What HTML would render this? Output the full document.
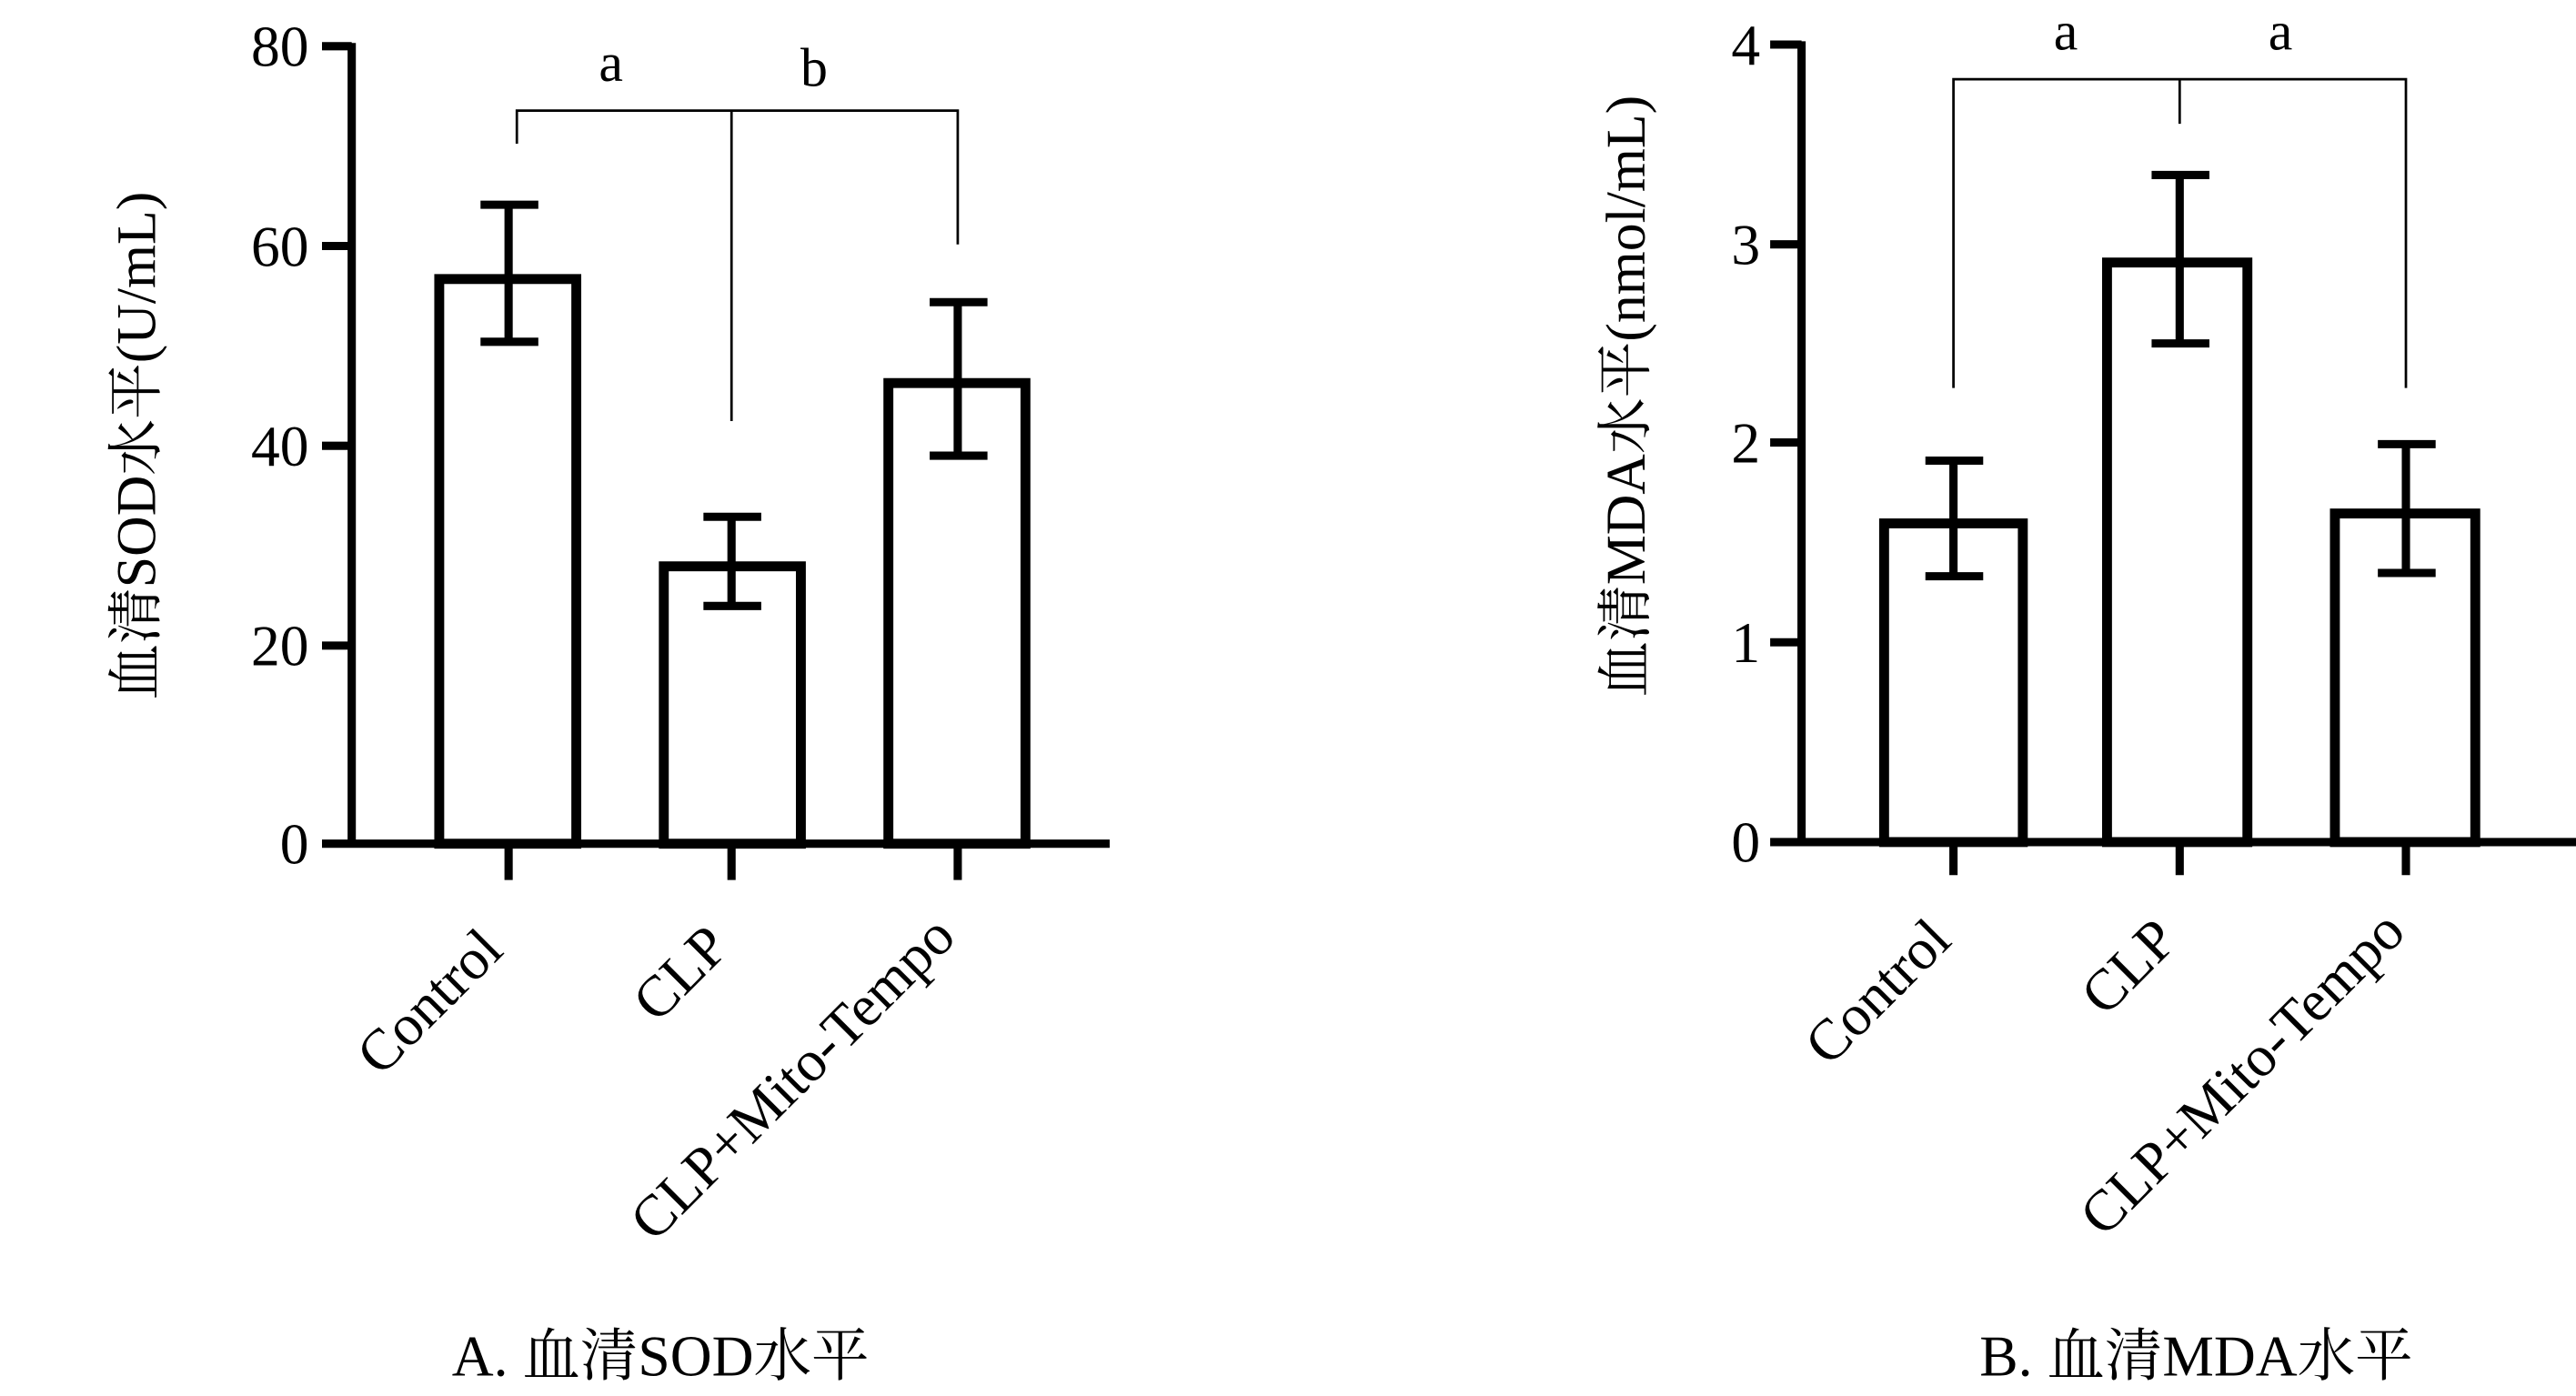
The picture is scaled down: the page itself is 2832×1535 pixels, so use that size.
<!DOCTYPE html>
<html><head><meta charset="utf-8"><style>
html,body{margin:0;padding:0;background:#fff}
svg{display:block}
text{font-family:"Liberation Serif","Noto Serif CJK SC","Noto Sans CJK SC",serif;fill:#000}
</style></head><body>
<svg width="2832" height="1535" viewBox="0 0 1560 845.5" preserveAspectRatio="none" xmlns="http://www.w3.org/2000/svg">
<g stroke="#000" fill="none" stroke-width="5">
<!-- Panel A -->
<line x1="213" y1="26" x2="213" y2="513"/>
<line x1="195" y1="511" x2="672" y2="511"/>
<line x1="195" y1="28" x2="213" y2="28"/>
<line x1="195" y1="149" x2="213" y2="149"/>
<line x1="195" y1="270" x2="213" y2="270"/>
<line x1="195" y1="391" x2="213" y2="391"/>
<line x1="308" y1="511" x2="308" y2="533"/>
<line x1="443" y1="511" x2="443" y2="533"/>
<line x1="580" y1="511" x2="580" y2="533"/>
<rect x="266" y="169" width="83" height="342" stroke-width="6"/>
<rect x="402" y="343" width="83" height="168" stroke-width="6"/>
<rect x="538" y="232" width="83" height="279" stroke-width="6"/>
<path d="M308 124V207M291 124H326M291 207H326"/>
<path d="M443 313V367M426 313H461M426 367H461"/>
<path d="M580 183V276M563 183H598M563 276H598"/>
<!-- Panel B -->
<line x1="1091" y1="25" x2="1091" y2="512"/>
<line x1="1072" y1="510" x2="1560" y2="510"/>
<line x1="1072" y1="27" x2="1091" y2="27"/>
<line x1="1072" y1="148" x2="1091" y2="148"/>
<line x1="1072" y1="268" x2="1091" y2="268"/>
<line x1="1072" y1="389" x2="1091" y2="389"/>
<line x1="1183" y1="510" x2="1183" y2="530"/>
<line x1="1320" y1="510" x2="1320" y2="530"/>
<line x1="1457" y1="510" x2="1457" y2="530"/>
<rect x="1141" y="317" width="84" height="193" stroke-width="6"/>
<rect x="1276" y="159" width="85" height="351" stroke-width="6"/>
<rect x="1414" y="311" width="85" height="199" stroke-width="6"/>
<path d="M1183 279V349M1166 279H1201M1166 349H1201"/>
<path d="M1320 106V208M1303 106H1338M1303 208H1338"/>
<path d="M1457 269V347M1440 269H1475M1440 347H1475"/>
</g>
<g stroke="#000" fill="none" stroke-width="1.5">
<path d="M313 87V67H580V148M443 67V255"/>
<path d="M1183 235V48H1457V235M1320 48V75"/>
</g>
<g font-size="35" text-anchor="end">
<text x="187" y="40">80</text><text x="187" y="161">60</text><text x="187" y="282">40</text><text x="187" y="403">20</text><text x="187" y="523">0</text>
<text x="1066" y="39">4</text><text x="1066" y="160">3</text><text x="1066" y="280">2</text><text x="1066" y="401">1</text><text x="1066" y="522">0</text>
</g>
<g font-size="33" text-anchor="middle">
<text x="370" y="49">a</text><text x="493" y="52">b</text>
<text x="1251" y="30">a</text><text x="1381" y="30">a</text>
</g>
<g font-size="35" text-anchor="end">
<text transform="translate(306,577) rotate(-45)">Control</text>
<text transform="translate(443,575) rotate(-45)">CLP</text>
<text transform="translate(580,569) rotate(-45)">CLP+Mito-Tempo</text>
<text transform="translate(1183,571) rotate(-45)">Control</text>
<text transform="translate(1320,571) rotate(-45)">CLP</text>
<text transform="translate(1458,566) rotate(-45)">CLP+Mito-Tempo</text>
</g>
<g font-size="34" text-anchor="middle">
<text transform="translate(94,270) rotate(-90)">血清SOD水平(U/mL)</text>
<text transform="translate(996,240) rotate(-90)">血清MDA水平(nmol/mL)</text>
</g>
<g font-size="35" text-anchor="middle">
<text x="400" y="833">A. 血清SOD水平</text>
<text x="1330" y="833">B. 血清MDA水平</text>
</g>
</svg>
</body></html>
